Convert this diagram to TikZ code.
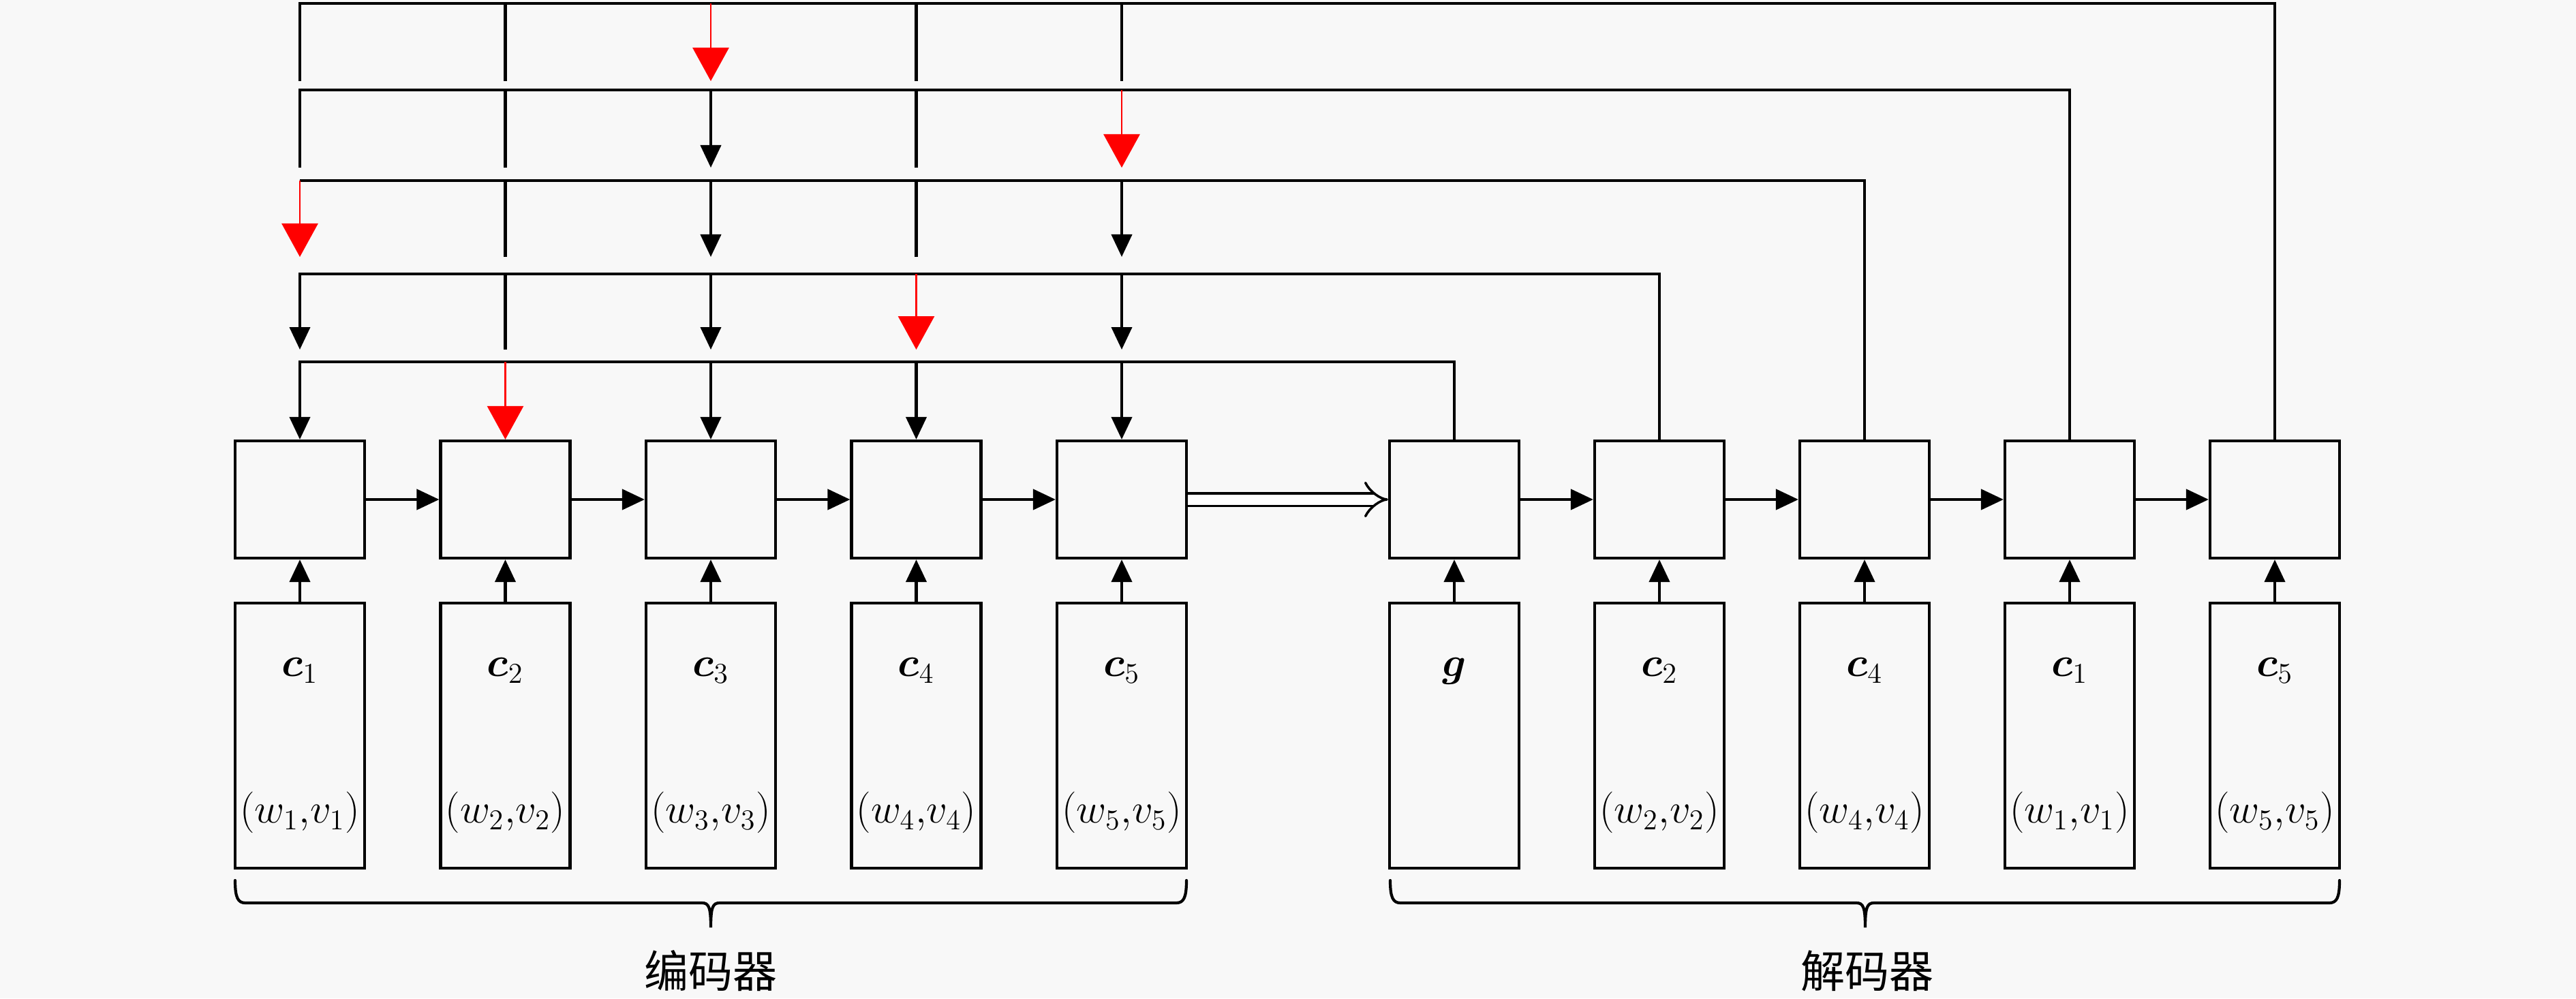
\documentclass[tikz,border=0pt]{standalone}
\usepackage{fontspec}
\newfontfamily\cjkfont{Noto Sans CJK SC}
\usepackage{amsmath}
\usepackage{bm}
\usepackage{xcolor}
\usetikzlibrary{arrows.meta}
\definecolor{paper}{RGB}{248,248,248}
\tikzset{
  cell/.style={draw=black, line width=1.2pt, minimum width=1.90cm, minimum height=1.72cm, inner sep=0pt},
  inbox/.style={draw=black, line width=1.2pt, minimum width=1.90cm, minimum height=3.89cm, inner sep=0pt},
  vlabel/.style={font=\LARGE, anchor=base, inner sep=0pt},
  link/.style={line width=1.2pt, draw=black},
  feed/.style={line width=1.2pt, draw=black, -{Triangle[length=0.33cm, width=0.30cm]}},
  pick/.style={line width=0.8pt, draw=red, -{Triangle[length=0.49cm, width=0.53cm]}},
  handoff/.style={double, double distance=0.15cm, line width=1pt, -{Implies[scale=1.6]}},
  curly/.style={line width=1.2pt, draw=black, line cap=round},
  grouptext/.style={font=\fontsize{18.5}{22}\cjkfont, inner sep=0pt},
}

\begin{document}
\begin{tikzpicture}
\fill[paper] (0,0) rectangle (37.8,14.65);
\useasboundingbox (0,0) rectangle (37.8,14.65);
% encoder cells and inputs
\node[cell] (e1) at (4.40,7.32) {};
\node[cell] (e2) at (7.415,7.32) {};
\node[cell] (e3) at (10.43,7.32) {};
\node[cell] (e4) at (13.445,7.32) {};
\node[cell] (e5) at (16.46,7.32) {};
\node[inbox] (x1) at (4.40,3.855) {};
\node[inbox] (x2) at (7.415,3.855) {};
\node[inbox] (x3) at (10.43,3.855) {};
\node[inbox] (x4) at (13.445,3.855) {};
\node[inbox] (x5) at (16.46,3.855) {};
\node[vlabel] (x1c) at ([yshift=-1.10cm]x1.north) {$\bm{c}_1$};
\node[vlabel] (x2c) at ([yshift=-1.10cm]x2.north) {$\bm{c}_2$};
\node[vlabel] (x3c) at ([yshift=-1.10cm]x3.north) {$\bm{c}_3$};
\node[vlabel] (x4c) at ([yshift=-1.10cm]x4.north) {$\bm{c}_4$};
\node[vlabel] (x5c) at ([yshift=-1.10cm]x5.north) {$\bm{c}_5$};
\node[vlabel] (x1w) at ([yshift=-3.25cm]x1.north) {$(w_1,\!v_1)$};
\node[vlabel] (x2w) at ([yshift=-3.25cm]x2.north) {$(w_2,\!v_2)$};
\node[vlabel] (x3w) at ([yshift=-3.25cm]x3.north) {$(w_3,\!v_3)$};
\node[vlabel] (x4w) at ([yshift=-3.25cm]x4.north) {$(w_4,\!v_4)$};
\node[vlabel] (x5w) at ([yshift=-3.25cm]x5.north) {$(w_5,\!v_5)$};
% decoder cells and inputs
\node[cell] (d1) at (21.34,7.32) {};
\node[cell] (d2) at (24.35,7.32) {};
\node[cell] (d3) at (27.36,7.32) {};
\node[cell] (d4) at (30.37,7.32) {};
\node[cell] (d5) at (33.38,7.32) {};
\node[inbox] (y1) at (21.34,3.855) {};
\node[inbox] (y2) at (24.35,3.855) {};
\node[inbox] (y3) at (27.36,3.855) {};
\node[inbox] (y4) at (30.37,3.855) {};
\node[inbox] (y5) at (33.38,3.855) {};
\node[vlabel] (y1c) at ([yshift=-1.10cm]y1.north) {$\bm{g}$};
\node[vlabel] (y2c) at ([yshift=-1.10cm]y2.north) {$\bm{c}_2$};
\node[vlabel] (y3c) at ([yshift=-1.10cm]y3.north) {$\bm{c}_4$};
\node[vlabel] (y4c) at ([yshift=-1.10cm]y4.north) {$\bm{c}_1$};
\node[vlabel] (y5c) at ([yshift=-1.10cm]y5.north) {$\bm{c}_5$};
\node[vlabel] (y2w) at ([yshift=-3.25cm]y2.north) {$(w_2,\!v_2)$};
\node[vlabel] (y3w) at ([yshift=-3.25cm]y3.north) {$(w_4,\!v_4)$};
\node[vlabel] (y4w) at ([yshift=-3.25cm]y4.north) {$(w_1,\!v_1)$};
\node[vlabel] (y5w) at ([yshift=-3.25cm]y5.north) {$(w_5,\!v_5)$};
% inputs into cells, recurrences
\draw[feed] (x1.north) -- (e1.south);
\draw[feed] (x2.north) -- (e2.south);
\draw[feed] (x3.north) -- (e3.south);
\draw[feed] (x4.north) -- (e4.south);
\draw[feed] (x5.north) -- (e5.south);
\draw[feed] (y1.north) -- (d1.south);
\draw[feed] (y2.north) -- (d2.south);
\draw[feed] (y3.north) -- (d3.south);
\draw[feed] (y4.north) -- (d4.south);
\draw[feed] (y5.north) -- (d5.south);
\draw[feed] (e1) -- (e2);
\draw[feed] (e2) -- (e3);
\draw[feed] (e3) -- (e4);
\draw[feed] (e4) -- (e5);
\draw[handoff] (e5) -- (d1);
\draw[feed] (d1) -- (d2);
\draw[feed] (d2) -- (d3);
\draw[feed] (d3) -- (d4);
\draw[feed] (d4) -- (d5);
% pointer levels
\coordinate (L0) at (0,14.60);
\coordinate (S0) at (0,13.46);
\coordinate (L1) at (0,13.33);
\coordinate (S1) at (0,12.19);
\coordinate (L2) at (0,12.00);
\coordinate (S2) at (0,10.88);
\coordinate (L3) at (0,10.63);
\coordinate (S3) at (0,9.52);
\coordinate (L4) at (0,9.34);
% level 0, from c5
\draw[link] (d5.north) |- (e1.north |- L0) -- (e1.north |- S0);
\draw[link] (e2.north |- L0) -- (e2.north |- S0);
\draw[pick] (e3.north |- L0) -- (e3.north |- S0);
\draw[link] (e4.north |- L0) -- (e4.north |- S0);
\draw[link] (e5.north |- L0) -- (e5.north |- S0);
% level 1, from c1
\draw[link] (d4.north) |- (e1.north |- L1) -- (e1.north |- S1);
\draw[link] (e2.north |- L1) -- (e2.north |- S1);
\draw[feed] (e3.north |- L1) -- (e3.north |- S1);
\draw[link] (e4.north |- L1) -- (e4.north |- S1);
\draw[pick] (e5.north |- L1) -- (e5.north |- S1);
% level 2, from c4
\draw[link] (d3.north) |- (e1.north |- L2);
\draw[pick] (e1.north |- L2) -- (e1.north |- S2);
\draw[link] (e2.north |- L2) -- (e2.north |- S2);
\draw[feed] (e3.north |- L2) -- (e3.north |- S2);
\draw[link] (e4.north |- L2) -- (e4.north |- S2);
\draw[feed] (e5.north |- L2) -- (e5.north |- S2);
% level 3, from c2
\draw[feed] (d2.north) |- (e1.north |- L3) -- (e1.north |- S3);
\draw[link] (e2.north |- L3) -- (e2.north |- S3);
\draw[feed] (e3.north |- L3) -- (e3.north |- S3);
\draw[pick] (e4.north |- L3) -- (e4.north |- S3);
\draw[feed] (e5.north |- L3) -- (e5.north |- S3);
% level 4, from g
\draw[feed] (d1.north) |- (e1.north |- L4) -- (e1.north);
\draw[pick] (e2.north |- L4) -- (e2.north);
\draw[feed] (e3.north |- L4) -- (e3.north);
\draw[feed] (e4.north |- L4) -- (e4.north);
\draw[feed] (e5.north |- L4) -- (e5.north);
% braces
\draw[curly] (3.45,1.73) .. controls (3.45,1.48) and (3.49,1.40) .. (3.60,1.40) -- (10.30,1.40)
  .. controls (10.40,1.40) and (10.43,1.34) .. (10.43,1.04)
  .. controls (10.43,1.34) and (10.46,1.40) .. (10.56,1.40) -- (17.26,1.40)
  .. controls (17.37,1.40) and (17.41,1.48) .. (17.41,1.73);
\draw[curly] (20.40,1.73) .. controls (20.40,1.48) and (20.44,1.40) .. (20.55,1.40) -- (27.24,1.40)
  .. controls (27.34,1.40) and (27.37,1.34) .. (27.37,1.04)
  .. controls (27.37,1.34) and (27.40,1.40) .. (27.50,1.40) -- (34.18,1.40)
  .. controls (34.29,1.40) and (34.33,1.48) .. (34.33,1.73);
\node[grouptext] (enc) at (10.43,0.40) {编码器};
\node[grouptext] (dec) at (27.40,0.40) {解码器};
\end{tikzpicture}
\end{document}
